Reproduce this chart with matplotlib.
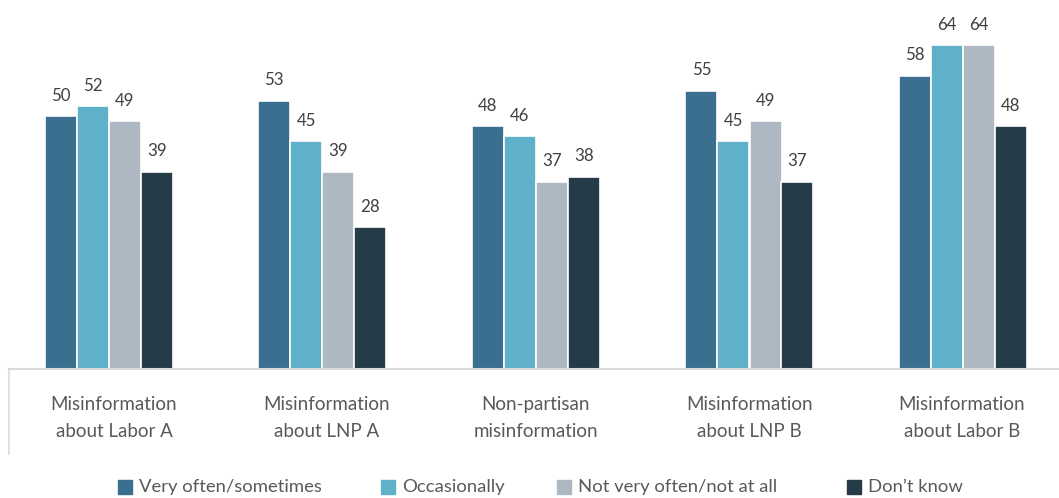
import matplotlib
matplotlib.use("Agg")
import matplotlib.pyplot as plt
from matplotlib.patches import Rectangle
from matplotlib.lines import Line2D
import numpy as np

plt.rcParams["font.family"] = ["Lato", "DejaVu Sans"]

categories = [
    "Misinformation\nabout Labor A",
    "Misinformation\nabout LNP A",
    "Non-partisan\nmisinformation",
    "Misinformation\nabout LNP B",
    "Misinformation\nabout Labor B",
]
series_names = [
    "Very often/sometimes",
    "Occasionally",
    "Not very often/not at all",
    "Don\u2019t know",
]
very_often = [50, 53, 48, 55, 58]
occasionally = [52, 45, 46, 45, 64]
not_often = [49, 39, 37, 49, 64]
dont_know = [39, 28, 38, 37, 48]
series_values = [very_often, occasionally, not_often, dont_know]
colors = ["#3b6f8f", "#5fb1c9", "#aeb8c3", "#253b47"]

W, H = 1059, 498
fig = plt.figure(figsize=(W / 100, H / 100), dpi=100)

# axes area in pixel terms: baseline at y=369, left edge at x=9
ax_left, ax_bottom = 9, H - 369
ax_w, ax_h = W - 9, 354
ax = fig.add_axes([ax_left / W, ax_bottom / H, ax_w / W, ax_h / H])

px_per_unit = 213.6
x0 = (108.7 - 9) / px_per_unit
ax.set_xlim(-x0, -x0 + ax_w / px_per_unit)
ax.set_ylim(0, 70)

x = np.arange(len(categories))
pitch = 32 / px_per_unit
offsets = (np.arange(4) - 1.5) * pitch
for vals, off, col, name in zip(series_values, offsets, colors, series_names):
    bars = ax.bar(x + off, vals, width=pitch, color=col, edgecolor="white",
                  linewidth=1.2, label=name, zorder=2)
    for b, v in zip(bars, vals):
        ax.annotate(f"{v}", (b.get_x() + b.get_width() / 2, v),
                    xytext=(0, 9), textcoords="offset points",
                    ha="center", va="bottom", fontsize=12.2, color="#404040")

for s in ax.spines.values():
    s.set_visible(False)
ax.set_yticks([])
ax.set_xticks([])
ax.axhline(0, color="#d9d9d9", linewidth=1.5, zorder=3, clip_on=False)

# left category divider extending below the baseline
fig.add_artist(Line2D([9.3 / W, 9.3 / W], [(H - 369) / H, (H - 454) / H],
                      color="#d9d9d9", linewidth=1.2))

label_shift = [0.025, 0.022, 0.0, 0.0, -0.006]
for xi, lab, dx in zip(x, categories, label_shift):
    ax.text(xi + dx, -9.7, lab, ha="center", va="center", fontsize=13.5,
            color="#595959", linespacing=1.77)

# legend row along the bottom
legend_x = [118, 381, 557, 847]
legend_y = 487
sq = 14
for lx, col, name in zip(legend_x, colors, series_names):
    fig.add_artist(Rectangle((lx / W, (H - legend_y - sq / 2) / H), sq / W, sq / H,
                             transform=fig.transFigure, color=col))
    fig.text((lx + sq + 7) / W, (H - legend_y) / H, name, ha="left",
             va="center", fontsize=13.3, color="#595959")

fig.savefig("out.png", dpi=100)
